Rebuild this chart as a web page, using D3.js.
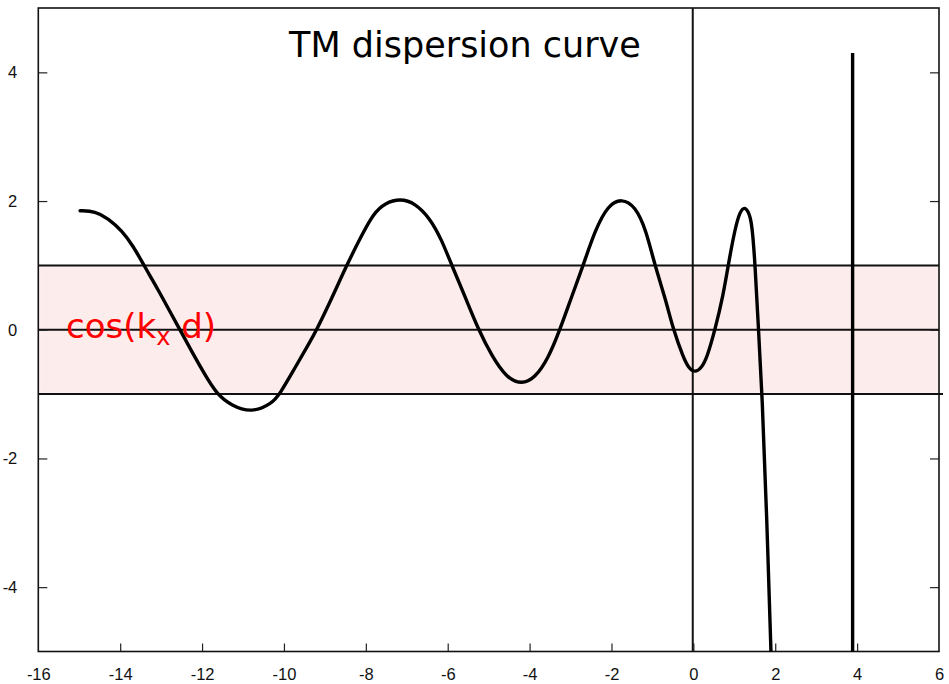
<!DOCTYPE html>
<html><head><meta charset="utf-8">
<script src="https://cdn.jsdelivr.net/npm/d3@7"></script>
<style>
html,body{margin:0;padding:0;background:#fff;}
svg{display:block;}
</style></head>
<body>
<svg id="chart" width="949" height="684"></svg>
<script>
// ---- data ----
const title = "TM dispersion curve";
const xTicks = [-16,-14,-12,-10,-8,-6,-4,-2,0,2,4,6];
const yTicks = [-4,-2,0,2,4];
const bandLevels = [-1, 0, 1];
const curveX = [-14.98,-14.61,-14.29,-13.96,-13.68,-13.42,-13.07,-12.74,-12.54,-12.25,-11.93,-11.64,-11.28,-10.79,-10.30,-10.10,-9.73,-9.40,-9.20,-8.83,-8.47,-8.10,-7.81,
  -7.53,-7.16,-6.80,-6.43,-6.15,-5.90,-5.58,-5.25,-4.92,-4.56,-4.19,-3.87,-3.54,-3.26,-2.97,-2.69,-2.40,-2.08,-1.75,-1.42,-1.16,-0.94,-0.69,-0.49,
  -0.24,-0.12,0.04,0.20,0.33,0.53,0.73,0.85,1.02,1.14,1.25,1.34,1.43,1.51,1.59,1.68,1.79,1.91];
const curveY = [1.85,1.84,1.73,1.54,1.30,1.00,0.62,0.23,0.0,-0.34,-0.70,-1.00,-1.18,-1.29,-1.15,-1.00,-0.59,-0.23,0.0,0.49,1.00,1.47,1.81,
  1.97,2.04,1.97,1.73,1.40,1.00,0.52,0.0,-0.41,-0.75,-0.85,-0.75,-0.44,0.0,0.52,1.00,1.55,1.94,2.04,1.92,1.56,1.00,0.50,0.0,
  -0.44,-0.59,-0.67,-0.59,-0.44,0.0,0.54,1.00,1.58,1.84,1.91,1.84,1.68,1.00,0.0,-1.00,-2.84,-5.3];
const poleX = [3.89, 3.89];
const poleY = [4.3, -5.3];
const verticalLineX = 0;

// ---- layout ----
const svg = d3.select("#chart");
const L = 38.3, R = 939, T = 8, B = 651.5;
const x = d3.scaleLinear().domain([-16, 6]).range([L, R]);
const y = d3.scaleLinear().domain([-5, 5]).range([B, T]);

const defs = svg.append("defs");
defs.append("clipPath").attr("id","clip").append("rect")
  .attr("x",L).attr("y",T).attr("width",R-L).attr("height",B-T);
const blur = defs.append("filter").attr("id","soft").attr("x","-5%").attr("y","-20%").attr("width","110%").attr("height","140%");
blur.append("feGaussianBlur").attr("stdDeviation",1.6);

// band
svg.append("rect")
  .attr("x", x(-16)).attr("y", y(1))
  .attr("width", x(6)-x(-16)).attr("height", y(-1)-y(1))
  .attr("fill", "#fcedec")
  .attr("filter","url(#soft)");

// band lines
svg.selectAll("line.band").data(bandLevels).enter().append("line")
  .attr("class","band")
  .attr("x1", x(-16)).attr("x2", d => d === -1 ? x(6)+4 : x(6))
  .attr("y1", d => y(d)).attr("y2", d => y(d))
  .attr("stroke","#111").attr("stroke-width",2);

// vertical line at x=0
svg.append("line")
  .attr("x1", x(verticalLineX)-0.6).attr("x2", x(verticalLineX)-0.6)
  .attr("y1", T).attr("y2", B)
  .attr("stroke","#111").attr("stroke-width",2);

// axes (inward ticks)
const fontAx = "'Liberation Sans', Arial, sans-serif";
const fmt = d => String(d);
const gB = svg.append("g").attr("transform",`translate(0,${B})`)
  .call(d3.axisBottom(x).tickValues(xTicks).tickSizeInner(-8).tickSizeOuter(0).tickPadding(17).tickFormat(fmt));
const gL = svg.append("g").attr("transform",`translate(${L},0)`)
  .call(d3.axisLeft(y).tickValues(yTicks).tickSizeInner(-9).tickSizeOuter(0).tickPadding(21).tickFormat(fmt));
const gR = svg.append("g").attr("transform",`translate(${R},0)`)
  .call(d3.axisRight(y).tickValues(yTicks).tickSizeInner(-9).tickSizeOuter(0).tickFormat(""));
[gB,gL,gR].forEach(g => {
  g.select(".domain").remove();
  g.selectAll(".tick line").attr("stroke","#222").attr("stroke-width",1.2);
  g.selectAll("text").attr("font-family",fontAx).attr("font-size",16.5).attr("fill","#111");
});
gB.selectAll(".tick line").filter(d => d === -16 || d === 6).remove();

// frame
svg.append("rect").attr("x",L).attr("y",T).attr("width",R-L).attr("height",B-T)
  .attr("fill","none").attr("stroke","#111").attr("stroke-width",1.6);

// curves
const line = d3.line().x(d => x(d[0])).y(d => y(d[1])).curve(d3.curveBasis);
const plot = svg.append("g").attr("clip-path","url(#clip)");
plot.append("path").datum(curveX.map((v,i)=>[v,curveY[i]]))
  .attr("d", line).attr("fill","none").attr("stroke","#000").attr("stroke-width",3.4)
  .attr("stroke-linejoin","round").attr("stroke-linecap","round");
plot.append("path").datum(poleX.map((v,i)=>[v,poleY[i]]))
  .attr("d", d3.line().x(d=>x(d[0])).y(d=>y(d[1])))
  .attr("fill","none").attr("stroke","#000").attr("stroke-width",3.4);

// title
svg.append("text").attr("x", 465).attr("y", 57).attr("text-anchor","middle")
  .attr("font-family","'DejaVu Sans', sans-serif").attr("font-size",35).attr("fill","#000")
  .text(title);

// label
const lab = svg.append("text").attr("x", 66).attr("y", 338)
  .attr("font-family","'DejaVu Sans', sans-serif").attr("font-size",34).attr("fill","#ff0000");
lab.append("tspan").text("cos(k");
lab.append("tspan").attr("dy",7).attr("font-size",24).text("x");
lab.append("tspan").attr("dy",-7).text(" d)");
</script>
</body></html>
